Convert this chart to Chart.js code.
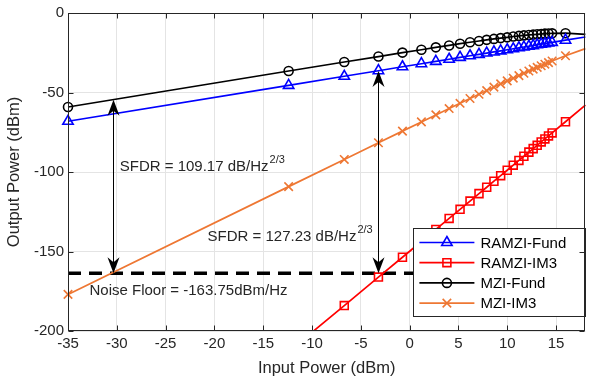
<!DOCTYPE html>
<html>
<head>
<meta charset="utf-8">
<script src="https://cdn.jsdelivr.net/npm/chart.js"></script>
<style>
  body { margin: 0; background: #fff; }
  #box { width: 593px; height: 386px; }
</style>
</head>
<body>
<div id="box"><canvas id="grafico" width="593" height="386"></canvas></div>
<script>
// input power sweep (dBm) shared by the four curves
const inputPower = [-35, -12.4, -6.7, -3.2, -0.74, 1.2, 2.68, 4.04, 5.16, 6.18, 7.1, 7.89, 8.63, 9.32, 9.99, 10.61, 11.19, 11.7, 12.21, 12.65, 13.06, 13.47, 13.85, 14.22, 14.59, 15.96, 18]

// output power (dBm)
const ramziFund = [-68.1, -45.5, -39.8, -36.3, -33.8, -31.9, -30.4, -29.1, -27.9, -26.9, -26.0, -25.2, -24.5, -23.8, -23.1, -22.5, -21.9, -21.4, -20.9, -20.5, -20.0, -19.6, -19.3, -18.9, -18.5, -17.1, -15.1]
const ramziIM3 = [-328.3, -213.0, -184.0, -166.1, -153.6, -143.7, -136.1, -129.2, -123.5, -118.3, -113.6, -109.6, -105.8, -102.3, -98.9, -95.7, -92.7, -90.1, -87.5, -85.3, -83.2, -81.1, -79.2, -77.3, -75.4, -68.4, -58.0]
const mziFund = [-59.1, -36.5, -30.8, -27.4, -24.9, -23.1, -21.6, -20.4, -19.3, -18.4, -17.6, -16.9, -16.3, -15.8, -15.3, -14.8, -14.4, -14.1, -13.8, -13.6, -13.4, -13.2, -13.0, -12.9, -12.8, -12.7, -13.4]
const mziIM3 = [-177.0, -109.2, -92.1, -81.6, -74.3, -68.5, -64.1, -60.1, -56.8, -53.8, -51.1, -48.8, -46.6, -44.6, -42.7, -41.0, -39.4, -37.9, -36.5, -35.3, -34.2, -33.2, -32.2, -31.2, -30.2, -26.9, -22.4]

const xTicks = [-35, -30, -25, -20, -15, -10, -5, 0, 5, 10, 15]
const yTicks = [-200, -150, -100, -50, 0]

// annotations
const noiseFloor = -163.75
const noiseLabel = 'Noise Floor = -163.75dBm/Hz'
const sfdrX = [-30.4, -3.2]
const sfdrTop = [-54.58, -36.52]
const sfdrLabels = ['SFDR = 109.17 dB/Hz', 'SFDR = 127.23 dB/Hz']
const sfdrLabelX = [-29.7, -20.7]
const sfdrLabelY = [-97, -141]

const FONTE = '"Liberation Sans", Arial, sans-serif'
const TXT = '#262626'

const series = [
    { label: 'RAMZI-Fund', data: ramziFund, cor: '#0000ff', estilo: 'triangle', raio: 6 },
    { label: 'RAMZI-IM3', data: ramziIM3, cor: '#ff0000', estilo: 'rect', raio: 5.6 },
    { label: 'MZI-Fund', data: mziFund, cor: '#000000', estilo: 'circle', raio: 4.5 },
    { label: 'MZI-IM3', data: mziIM3, cor: '#ee7733', estilo: 'crossRot', raio: 6 },
]

const last = inputPower.length - 1

const datasets = series.map(s => ({
    label: s.label,
    data: inputPower.map((x, i) => ({ x: x, y: s.data[i] })),
    borderColor: s.cor,
    borderWidth: 1.7,
    pointStyle: s.estilo,
    pointRadius: ctx => ctx.dataIndex === last ? 0 : s.raio,
    pointBorderWidth: 1.6,
    pointBorderColor: s.cor,
    pointBackgroundColor: 'rgba(0,0,0,0)',
    tension: 0,
    clip: s.label === 'RAMZI-IM3' ? { left: 8, top: 8, right: 8, bottom: 0 } : 8,
}))

// arrowhead, dir = 1 points down, -1 points up
const seta = (ctx, x, yTip, dir) => {
    ctx.beginPath()
    ctx.moveTo(x, yTip)
    ctx.lineTo(x - 6, yTip - dir * 16)
    ctx.lineTo(x, yTip - dir * 11)
    ctx.lineTo(x + 6, yTip - dir * 16)
    ctx.closePath()
    ctx.fill()
}

const extras = {
    id: 'extras',
    beforeDatasetsDraw(chart) {
        const { ctx, chartArea: a, scales: { x, y } } = chart
        // noise floor
        ctx.save()
        ctx.strokeStyle = '#000'
        ctx.lineWidth = 3.5
        ctx.setLineDash([13, 8])
        const yn = y.getPixelForValue(noiseFloor)
        ctx.beginPath()
        ctx.moveTo(a.left, yn)
        ctx.lineTo(a.right, yn)
        ctx.stroke()
        ctx.restore()
    },
    afterDraw(chart) {
        const { ctx, chartArea: a, scales: { x, y } } = chart
        ctx.save()

        // SFDR arrows
        const yn = y.getPixelForValue(noiseFloor)
        ctx.fillStyle = '#000'
        ctx.strokeStyle = '#000'
        ctx.lineWidth = 1
        sfdrX.forEach((v, i) => {
            const px = Math.round(x.getPixelForValue(v)) + 0.5
            const yt = y.getPixelForValue(sfdrTop[i])
            ctx.beginPath()
            ctx.moveTo(px, yt + 5)
            ctx.lineTo(px, yn - 5)
            ctx.stroke()
            seta(ctx, px, yt, -1)
            seta(ctx, px, yn, 1)
        })

        // texts
        ctx.fillStyle = TXT
        ctx.textBaseline = 'middle'
        ctx.textAlign = 'left'
        sfdrLabels.forEach((t, i) => {
            const px = x.getPixelForValue(sfdrLabelX[i])
            const py = y.getPixelForValue(sfdrLabelY[i])
            ctx.font = '15px ' + FONTE
            ctx.fillText(t, px, py)
            const w = ctx.measureText(t).width
            ctx.font = '11px ' + FONTE
            ctx.fillText('2/3', px + w + 1, py - 7)
        })
        ctx.font = '15px ' + FONTE
        ctx.fillText(noiseLabel, x.getPixelForValue(-32.8), y.getPixelForValue(-174.5))

        // legend
        const lw = 172, lh = 88
        const lx = a.right - lw, ly = a.bottom - 15 - lh
        ctx.fillStyle = '#fff'
        ctx.fillRect(lx, ly, lw, lh)
        ctx.strokeStyle = TXT
        ctx.lineWidth = 1
        ctx.strokeRect(Math.round(lx) + 0.5, Math.round(ly) + 0.5, lw, lh)
        series.forEach((s, i) => {
            const cy = ly + 14.5 + i * 20.2
            ctx.strokeStyle = s.cor
            ctx.lineWidth = 1.7
            ctx.beginPath()
            ctx.moveTo(lx + 6, cy)
            ctx.lineTo(lx + 61, cy)
            ctx.stroke()
            ctx.fillStyle = 'rgba(0,0,0,0)'
            ctx.lineWidth = 1.6
            Chart.helpers.drawPoint(ctx, { pointStyle: s.estilo, radius: s.raio, borderWidth: 1.6, rotation: 0 }, lx + 33.5, cy)
            ctx.fillStyle = '#000'
            ctx.font = '15px ' + FONTE
            ctx.textBaseline = 'middle'
            ctx.fillText(s.label, lx + 67, cy + 1)
        })

        // axes box with inward ticks
        ctx.strokeStyle = TXT
        ctx.lineWidth = 1
        const L = Math.round(a.left) + 0.5, R = Math.round(a.right) - 0.5
        const T = Math.round(a.top) + 0.5, B = Math.round(a.bottom) - 0.5
        ctx.strokeRect(L, T, R - L, B - T)
        ctx.beginPath()
        xTicks.forEach(v => {
            const px = Math.round(x.getPixelForValue(v)) + 0.5
            ctx.moveTo(px, B); ctx.lineTo(px, B - 5)
            ctx.moveTo(px, T); ctx.lineTo(px, T + 5)
        })
        yTicks.forEach(v => {
            const py = Math.round(y.getPixelForValue(v)) + 0.5
            ctx.moveTo(L, py); ctx.lineTo(L + 5, py)
            ctx.moveTo(R, py); ctx.lineTo(R - 5, py)
        })
        ctx.stroke()
        ctx.restore()
    }
}

const config = {
    type: 'line',
    data: { datasets: datasets },
    options: {
        responsive: false,
        animation: false,
        layout: { padding: { top: 6, right: 6, left: 0, bottom: 0 } },
        plugins: {
            legend: { display: false },
            tooltip: { enabled: false }
        },
        scales: {
            x: {
                type: 'linear',
                min: -35,
                max: 18,
                afterBuildTicks: s => { s.ticks = xTicks.map(v => ({ value: v })) },
                afterFit: s => { s.height = 55 },
                grid: { color: '#e4e4e4', drawTicks: false },
                border: { display: false },
                ticks: { color: TXT, font: { family: FONTE, size: 15 }, padding: 4, maxRotation: 0 },
                title: { display: true, text: 'Input Power (dBm)', color: TXT, font: { family: FONTE, size: 16.5 }, padding: { top: 0, bottom: 8 } }
            },
            y: {
                min: -200,
                max: 0,
                afterBuildTicks: s => { s.ticks = yTicks.map(v => ({ value: v })) },
                afterFit: s => { s.width = 68 },
                grid: { color: '#e4e4e4', drawTicks: false },
                border: { display: false },
                ticks: { color: TXT, font: { family: FONTE, size: 15 }, padding: 4 },
                title: { display: true, text: 'Output Power (dBm)', color: TXT, font: { family: FONTE, size: 16.5 }, padding: { top: 5, bottom: 0 } }
            }
        }
    },
    plugins: [extras]
}

new Chart(document.getElementById('grafico'), config)
</script>
</body>
</html>
